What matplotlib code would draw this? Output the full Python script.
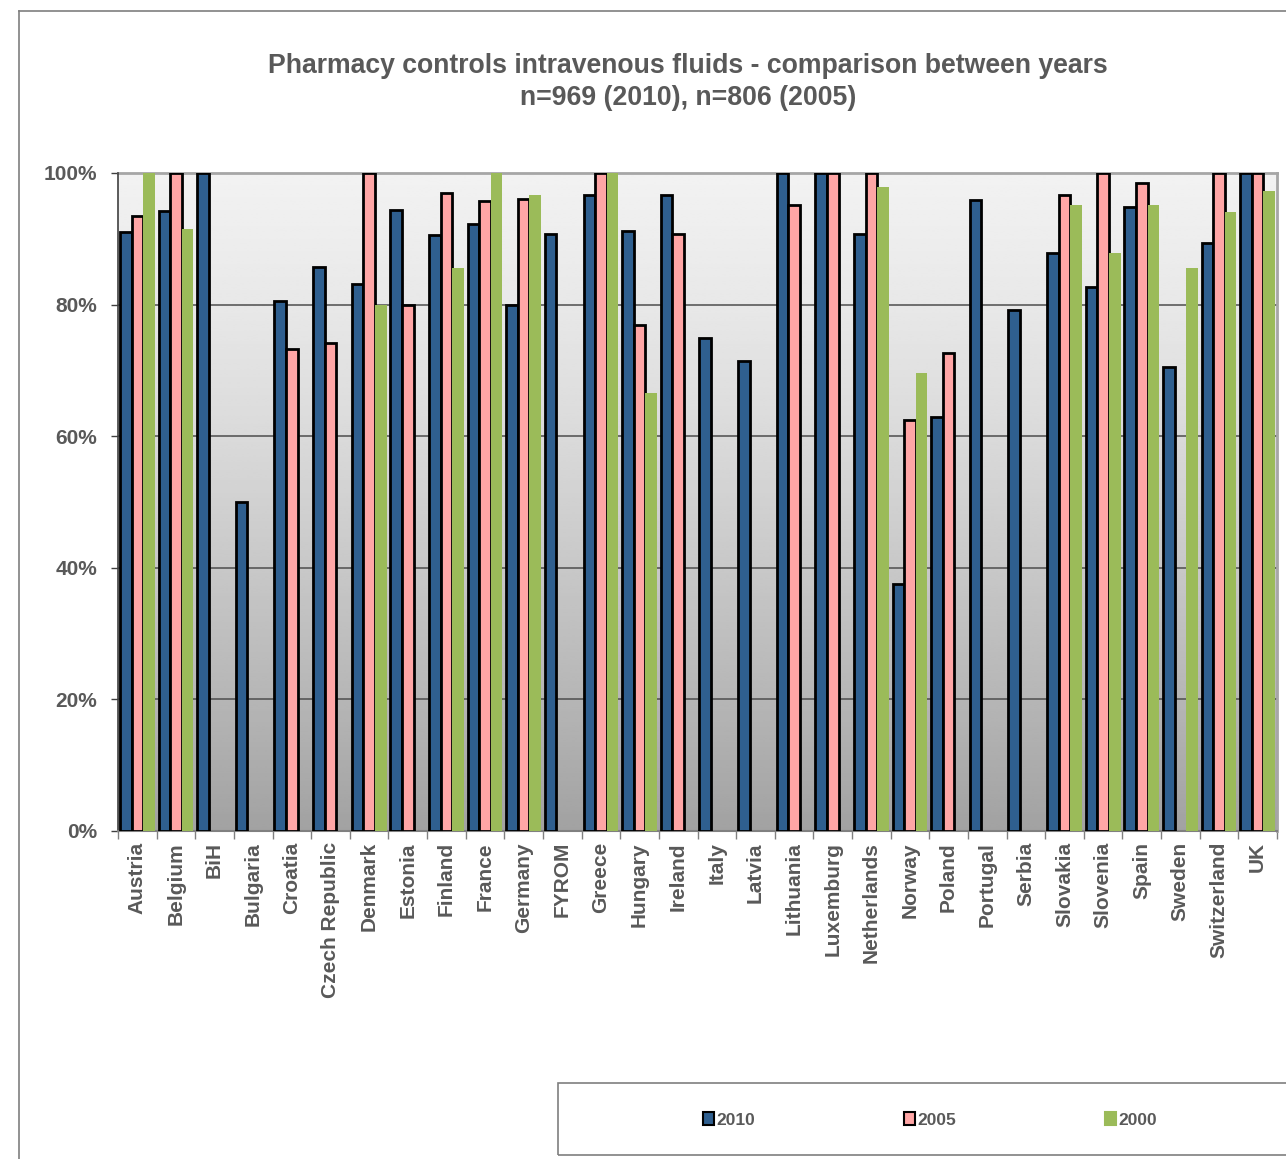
import numpy as np
import matplotlib
matplotlib.use("Agg")
import matplotlib.pyplot as plt
from matplotlib.patches import Rectangle
from matplotlib.lines import Line2D

plt.rcParams['font.family'] = ['Liberation Sans', 'DejaVu Sans']

countries = ["Austria", "Belgium", "BiH", "Bulgaria", "Croatia", "Czech Republic",
             "Denmark", "Estonia", "Finland", "France", "Germany", "FYROM", "Greece",
             "Hungary", "Ireland", "Italy", "Latvia", "Lithuania", "Luxemburg",
             "Netherlands", "Norway", "Poland", "Portugal", "Serbia", "Slovakia",
             "Slovenia", "Spain", "Sweden", "Switzerland", "UK"]

y2010 = [91.1, 94.2, 100, 50.0, 80.5, 85.7, 83.2, 94.4, 90.6, 92.2, 80.0, 90.8, 96.7,
         91.2, 96.7, 75.0, 71.4, 100, 100, 90.8, 37.5, 62.9, 95.9, 79.2, 87.8,
         82.6, 94.8, 70.5, 89.4, 100]
y2005 = [93.4, 100, None, None, 73.2, 74.1, 100, 80.0, 97.0, 95.7, 96.1, None, 100,
         76.9, 90.8, None, None, 95.1, 100, 100, 62.5, 72.6, None, None, 96.7,
         100, 98.5, None, 100, 100]
y2000 = [100, 91.5, None, None, None, None, 80.0, None, 85.6, 100, 96.7, None, 100,
         66.5, None, None, None, None, None, 97.8, 69.6, None, None, None, 95.1,
         87.8, 95.1, 85.6, 94.0, 97.3]

series_names = ["2010", "2005", "2000"]
series_colors = ["#2f5f8f", "#ffa6a6", "#9bbb59"]
series_edges = ["black", "black", "none"]
yticks = [0, 20, 40, 60, 80, 100]
ytick_labels = ["0%", "20%", "40%", "60%", "80%", "100%"]

title = "Pharmacy controls intravenous fluids - comparison between years\nn=969 (2010), n=806 (2005)"

W, H = 1286, 1159
fig = plt.figure(figsize=(W / 100, H / 100), dpi=100)
fig.patch.set_facecolor("white")

# outer chart border (cut off at right/bottom)
fig.add_artist(Line2D([19 / W, 19 / W], [0, 1 - 11 / H], transform=fig.transFigure,
                      color="#7f7f7f", lw=1.2))
fig.add_artist(Line2D([19 / W, 1], [1 - 11 / H, 1 - 11 / H], transform=fig.transFigure,
                      color="#7f7f7f", lw=1.2))

left, right = 118 / W, 1277 / W
bottom, top = 1 - 831 / H, 1 - 173 / H
ax = fig.add_axes([left, bottom, right - left, top - bottom])

n = len(countries)
x = np.arange(n)
ax.set_xlim(-0.5, n - 0.5)
ax.set_ylim(0, 100)

# gradient background
stops_v = [0, 20, 40, 60, 80, 100]
stops_c = [162, 182, 200, 218, 232, 242]
grad = np.interp(np.linspace(0, 100, 256), stops_v, stops_c) / 255.0
img = np.repeat(grad[:, None], 2, axis=1)
ax.imshow(img, extent=[-0.5, n - 0.5, 0, 100], origin="lower", aspect="auto",
          cmap="gray", vmin=0, vmax=1, zorder=0, interpolation="bilinear")

for t in yticks[1:-1]:
    ax.axhline(t, color="#4d4d4d", lw=1.1, zorder=1)

bw = 0.30
for i, (vals, col, ec) in enumerate(zip([y2010, y2005, y2000], series_colors, series_edges)):
    xs = [xx + (i - 1) * bw for xx, v in zip(x, vals) if v is not None]
    hs = [v for v in vals if v is not None]
    ax.bar(xs, hs, width=bw, color=col, edgecolor=ec,
           linewidth=2.0 if ec != "none" else 0, zorder=3, label=series_names[i])

for s in ["top", "right"]:
    ax.spines[s].set_color("#a6a6a6")
    ax.spines[s].set_linewidth(2)
    ax.spines[s].set_zorder(2)
ax.spines["left"].set_color("#404040")
ax.spines["left"].set_linewidth(1.2)
ax.spines["bottom"].set_color("#808080")
ax.spines["bottom"].set_linewidth(1.5)

ax.set_yticks(yticks)
ax.set_yticklabels(ytick_labels, fontsize=15, fontweight="bold", color="#595959")
ax.tick_params(axis="y", direction="out", length=5, width=1, color="#404040", pad=10)

ax.set_xticks(x)
ax.set_xticklabels(countries, rotation=90, fontsize=15, fontweight="bold",
                   color="#595959", va="top", ha="center")
ax.tick_params(axis="x", which="major", length=0, pad=8)
ax.set_xticks(np.arange(-0.5, n, 1), minor=True)
ax.tick_params(axis="x", which="minor", direction="out", length=6, width=1, color="#808080")

fig.text(688 / W, 1 - 82 / H, title, ha="center", va="center", fontsize=19.2,
         fontweight="bold", color="#595959", linespacing=1.28)

# legend box
lx0, ly0 = 558 / W, 1 - 1155 / H
fig.add_artist(Rectangle((lx0, ly0), 1 - lx0 + 0.01, (1155 - 1083) / H,
                         transform=fig.transFigure, fill=False,
                         edgecolor="#7f7f7f", lw=1.2))
handles = [Rectangle((0, 0), 1, 1, facecolor=c, edgecolor=("black" if e != "none" else c),
                     lw=1.5) for c, e in zip(series_colors, series_edges)]
leg = fig.legend(handles, series_names, loc="center", bbox_to_anchor=(930 / W, 1 - 1120 / H),
                 ncol=3, frameon=False, handlelength=0.6, handleheight=0.8,
                 handletextpad=0.15, columnspacing=8.6,
                 prop={"weight": "bold", "size": 12.5})
for t in leg.get_texts():
    t.set_color("#595959")

fig.savefig("out.png", dpi=100)
